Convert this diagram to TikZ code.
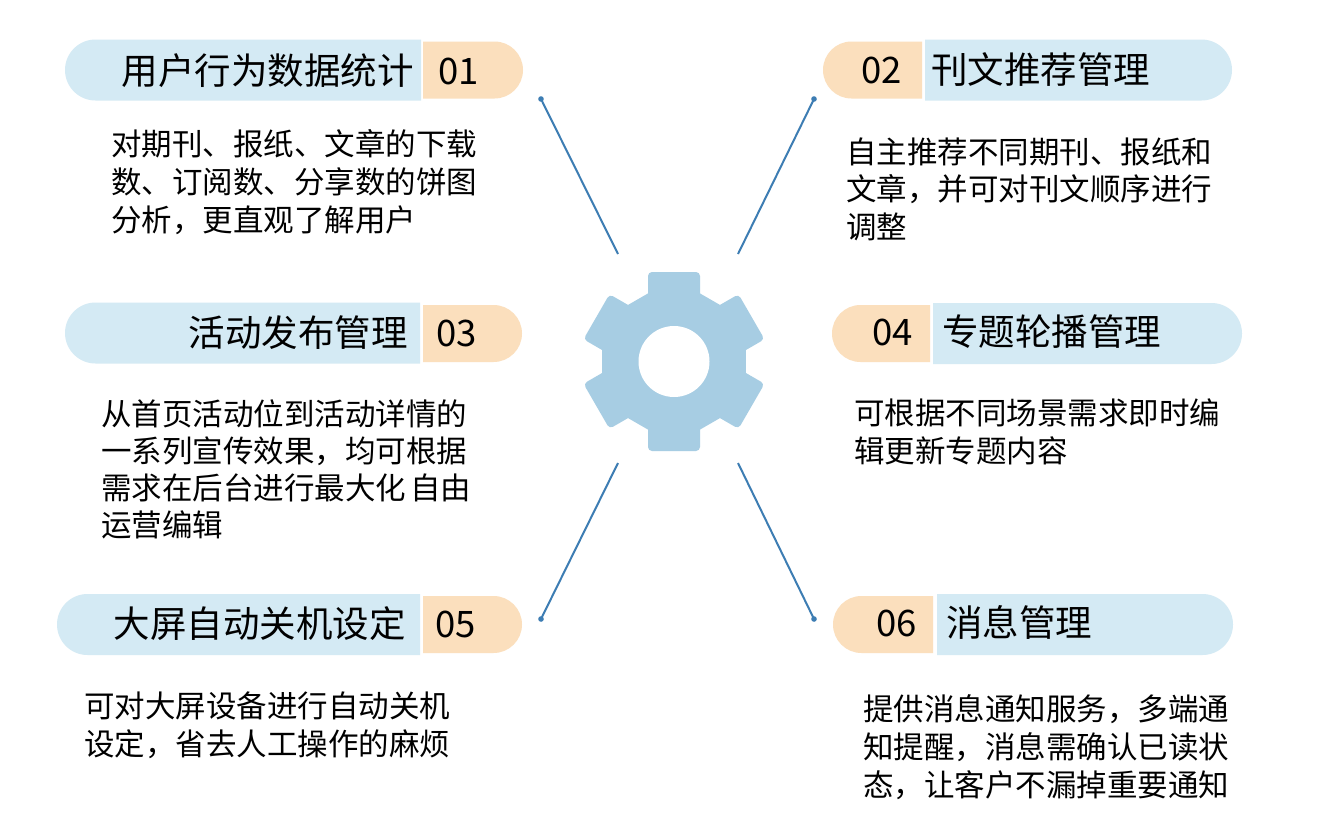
\documentclass[tikz,border=0pt]{standalone}
\usepackage{fontspec}
\setmainfont{Noto Sans CJK SC}
\usetikzlibrary{shapes.misc}
\definecolor{pillblue}{HTML}{D4EAF4}
\definecolor{pillorange}{HTML}{FBDFBD}
\definecolor{linkblue}{HTML}{3D7DB3}
\definecolor{gearblue}{HTML}{A7CDE3}
\begin{document}
\begin{tikzpicture}[x=1pt,y=-1pt,
  bluepill/.style={rounded rectangle, fill=pillblue, draw=none, inner sep=0pt, minimum height=61pt},
  orangepill/.style={rounded rectangle, fill=pillorange, draw=none, inner sep=0pt, minimum height=57pt},
  larc/.style={rounded rectangle right arc=none},
  rarc/.style={rounded rectangle left arc=none},
  titletext/.style={font=\fontsize{36.5}{40}\selectfont, inner sep=0pt, text=black},
  numtext/.style={font=\fontsize{36.5}{40}\selectfont, inner sep=0pt, text=black},
  body/.style={font=\fontsize{30.5}{38}\selectfont, inner sep=0pt, anchor=base west, text=black},
  link/.style={draw=linkblue, line width=2pt},
  linkdot/.style={fill=linkblue}
]
\fill[white] (0,0) rectangle (1328,836);
\useasboundingbox (0,0) rectangle (1328,836);

% ---- pills ----
\node[bluepill, larc, minimum width=356pt] (p1b) at (243,70) {};
\node[orangepill, rarc, minimum width=100pt] (p1o) at (473,70) {};
\node[orangepill, larc, minimum width=99pt] (p2o) at (872.5,70) {};
\node[bluepill, rarc, minimum width=307pt] (p2b) at (1078.5,70) {};
\node[bluepill, larc, minimum width=355pt] (p3b) at (242.5,333) {};
\node[orangepill, rarc, minimum width=99pt] (p3o) at (472.5,333.5) {};
\node[orangepill, larc, minimum width=98pt] (p4o) at (881,333.5) {};
\node[bluepill, rarc, minimum width=309pt] (p4b) at (1087.5,333.5) {};
\node[bluepill, larc, minimum width=363pt] (p5b) at (238.5,624.5) {};
\node[orangepill, rarc, minimum width=99pt] (p5o) at (472.5,624.5) {};
\node[orangepill, larc, minimum width=100pt] (p6o) at (883,624.5) {};
\node[bluepill, rarc, minimum width=296pt] (p6b) at (1085,624.5) {};

% ---- titles ----
\node[titletext, anchor=base east] (t1) at (414,84) {用户行为数据统计};
\node[numtext, anchor=base west] (n1) at (438,84) {01};
\node[numtext, anchor=base east] (n2) at (902,83) {02};
\node[titletext, anchor=base west] (t2) at (931,83) {刊文推荐管理};
\node[titletext, anchor=base east] (t3) at (408,346) {活动发布管理};
\node[numtext, anchor=base west] (n3) at (436,346) {03};
\node[numtext, anchor=base east] (n4) at (913,345) {04};
\node[titletext, anchor=base west] (t4) at (942,345) {专题轮播管理};
\node[titletext, anchor=base east] (t5) at (406,637) {大屏自动关机设定};
\node[numtext, anchor=base west] (n5) at (435,637) {05};
\node[numtext, anchor=base east] (n6) at (917,636) {06};
\node[titletext, anchor=base west] (t6) at (946,636) {消息管理};

% ---- body texts ----
\foreach \s [count=\i] in {对期刊、报纸、文章的下载,数、订阅数、分享数的饼图,分析，更直观了解用户}
  \node[body] (d1-\i) at ({111},{155+38*(\i-1)}) {\s};
\foreach \s [count=\i] in {自主推荐不同期刊、报纸和,文章，并可对刊文顺序进行,调整}
  \node[body] (d2-\i) at ({846},{163+37.5*(\i-1)}) {\s};
\foreach \s [count=\i] in {从首页活动位到活动详情的,一系列宣传效果，均可根据,需求在后台进行最大化\hspace{4pt}自由,运营编辑}
  \node[body] (d3-\i) at ({101},{425+37*(\i-1)}) {\s};
\foreach \s [count=\i] in {可根据不同场景需求即时编,辑更新专题内容}
  \node[body] (d4-\i) at ({854},{424+38.5*(\i-1)}) {\s};
\foreach \s [count=\i] in {可对大屏设备进行自动关机,设定，省去人工操作的麻烦}
  \node[body] (d5-\i) at ({84},{717+38*(\i-1)}) {\s};
\foreach \s [count=\i] in {提供消息通知服务，多端通,知提醒，消息需确认已读状,态，让客户不漏掉重要通知}
  \node[body] (d6-\i) at ({863},{720+38*(\i-1)}) {\s};

% ---- gear ----
\begin{scope}[shift={(674,361.5)}]
  \fill[gearblue] (30:83.1) -- (90:83.1) -- (150:83.1) -- (210:83.1) -- (270:83.1) -- (330:83.1) -- cycle;
  \foreach \a in {0,60,...,300}
    \fill[gearblue, rotate=\a, rounded corners=4pt] (-26,55) rectangle (26,89.5);
  \fill[white] (0,0) circle (35.5pt);
\end{scope}

% ---- connectors ----
\coordinate (l1o) at (541,99);  \coordinate (l1i) at (618,254);
\coordinate (l2o) at (814,99);  \coordinate (l2i) at (738,254);
\coordinate (l3i) at (618,463); \coordinate (l3o) at (541,619);
\coordinate (l4i) at (738,463); \coordinate (l4o) at (814,619);
\draw[link] (l1o) -- (l1i);
\draw[link] (l2o) -- (l2i);
\draw[link] (l3i) -- (l3o);
\draw[link] (l4i) -- (l4o);
\foreach \c in {l1o,l2o,l3o,l4o}
  \fill[linkdot] (\c) circle (2.8pt);
\end{tikzpicture}
\end{document}
